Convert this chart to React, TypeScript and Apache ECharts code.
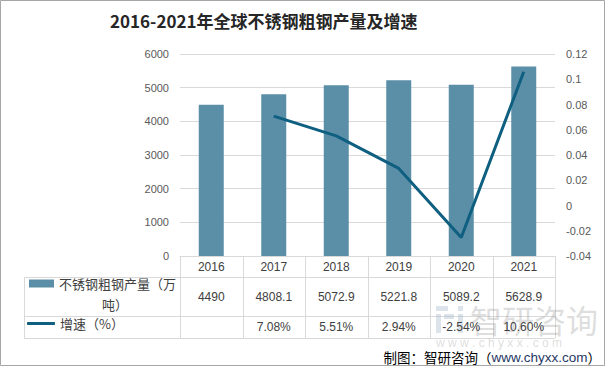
import React, { useEffect, useRef } from 'react';
import * as echarts from 'echarts';

const years = ['2016', '2017', '2018', '2019', '2020', '2021'];
const production = [4490, 4808.1, 5072.9, 5221.8, 5089.2, 5628.9];
const growthPct: (number | null)[] = [null, 7.08, 5.51, 2.94, -2.54, 10.6];
const leftAxis = { min: 0, max: 6000, interval: 1000 };
const rightAxis = { min: -0.04, max: 0.12, interval: 0.02 };
const barName = '不锈钢粗钢产量（万吨）';
const lineName = '增速（%）';

const W = 606;
const H = 367;
const G_LEFT = 180;
const G_RIGHT = 555;
const G_TOP = 54;
const G_BOTTOM = 256;
const ROW1 = 277;
const ROW2 = 316;
const ROW3 = 338;
const TABLE_LEFT = 24;
const LINE_C = '#d9d9d9';
const TXT = '#404040';
const NUMFONT = '"Liberation Sans", Arial, sans-serif';
const CJK = '"Noto Sans CJK SC", sans-serif';

export default function App() {
  const ref = useRef<HTMLDivElement>(null);
  useEffect(() => {
    document.body.style.margin = '0';
    const chart = echarts.init(ref.current!, null, { renderer: 'svg' });
    const colW = (G_RIGHT - G_LEFT) / years.length;
    const tableLines: any[] = [];
    [ROW1, ROW2, ROW3].forEach((y) =>
      tableLines.push({ type: 'line', shape: { x1: TABLE_LEFT, y1: y + 0.5, x2: G_RIGHT, y2: y + 0.5 }, style: { stroke: LINE_C, lineWidth: 1 }, silent: true })
    );
    tableLines.push({ type: 'line', shape: { x1: TABLE_LEFT + 0.5, y1: ROW1, x2: TABLE_LEFT + 0.5, y2: ROW3 }, style: { stroke: LINE_C, lineWidth: 1 }, silent: true });
    for (let i = 0; i <= years.length; i++) {
      const x = Math.round(G_LEFT + colW * i) + 0.5;
      tableLines.push({ type: 'line', shape: { x1: x, y1: G_BOTTOM, x2: x, y2: ROW3 }, style: { stroke: LINE_C, lineWidth: 1 }, silent: true });
    }

    const option: any = {
      animation: false,
      backgroundColor: '#ffffff',
      title: {
        text: '2016-2021年全球不锈钢粗钢产量及增速',
        left: 110,
        top: 12,
        padding: 0,
        textStyle: { fontSize: 17, fontWeight: 'bold', color: '#262626', fontFamily: CJK },
      },
      grid: { left: G_LEFT, right: W - G_RIGHT, top: G_TOP, bottom: H - G_BOTTOM },
      legend: [
        {
          data: [barName],
          left: 29,
          top: 277,
          padding: 0,
          itemWidth: 25,
          itemHeight: 8,
          icon: 'rect',
          formatter: () => '不锈钢粗钢产量（万',
          textStyle: { fontSize: 13, color: TXT, fontFamily: CJK },
          itemGap: 4,
        },
        {
          data: [lineName],
          left: 27,
          top: 317,
          padding: 0,
          itemWidth: 28,
          itemHeight: 3,
          icon: 'roundRect',
          textStyle: { fontSize: 13, color: TXT, fontFamily: CJK },
          itemGap: 4,
        },
      ],
      xAxis: {
        type: 'category',
        data: years,
        axisLine: { show: true, lineStyle: { color: LINE_C } },
        axisTick: { show: false },
        axisLabel: {
          interval: 0,
          margin: 0,
          formatter: (v: string, i: number) => {
            const g = growthPct[i];
            const gs = g == null ? ' ' : g.toFixed(2) + '%';
            return `{h|${v}}\n{p|${production[i]}}\n{g|${gs}}`;
          },
          rich: {
            h: { lineHeight: 21, height: 21, fontSize: 12, color: TXT, fontFamily: NUMFONT },
            p: { lineHeight: 39, height: 39, fontSize: 12, color: TXT, fontFamily: NUMFONT },
            g: { lineHeight: 22, height: 22, fontSize: 12, color: TXT, fontFamily: NUMFONT },
          },
        },
      },
      yAxis: [
        {
          type: 'value',
          min: leftAxis.min,
          max: leftAxis.max,
          interval: leftAxis.interval,
          axisLine: { show: false },
          axisTick: { show: false },
          splitLine: { show: true, lineStyle: { color: LINE_C } },
          axisLabel: { fontSize: 11, color: '#595959', margin: 11, fontFamily: NUMFONT, formatter: (v: number) => String(v) },
        },
        {
          type: 'value',
          min: rightAxis.min,
          max: rightAxis.max,
          interval: rightAxis.interval,
          axisLine: { show: false },
          axisTick: { show: false },
          splitLine: { show: false },
          axisLabel: {
            fontSize: 11,
            color: '#595959',
            margin: 11,
            fontFamily: NUMFONT,
            formatter: (v: number) => String(parseFloat(v.toFixed(2))),
          },
        },
      ],
      series: [
        {
          name: barName,
          type: 'bar',
          data: production,
          barWidth: '40%',
          itemStyle: { color: '#5b8fa7' },
        },
        {
          name: lineName,
          type: 'line',
          yAxisIndex: 1,
          data: growthPct.map((g) => (g == null ? null : g / 100)),
          symbol: 'none',
          lineStyle: { color: '#0e5f80', width: 3 },
          itemStyle: { color: '#0e5f80' },
        },
      ],
      graphic: [
        ...tableLines,
        {
          type: 'text',
          x: 102,
          y: 304,
          style: { text: '吨）', fontSize: 13, fill: TXT, fontFamily: CJK, verticalAlign: 'middle' },
          silent: true,
        },
        // watermark
        { type: 'rect', shape: { x: 436, y: 306, width: 12, height: 5 }, style: { fill: '#9fb0c4', opacity: 0.35 }, silent: true },
        { type: 'rect', shape: { x: 436, y: 314, width: 5, height: 19 }, style: { fill: '#9fb0c4', opacity: 0.35 }, silent: true },
        { type: 'rect', shape: { x: 444, y: 314, width: 10, height: 5 }, style: { fill: '#9fb0c4', opacity: 0.35 }, silent: true },
        { type: 'rect', shape: { x: 458, y: 306, width: 5, height: 5 }, style: { fill: '#9fb0c4', opacity: 0.35 }, silent: true },
        { type: 'rect', shape: { x: 458, y: 314, width: 5, height: 19 }, style: { fill: '#9fb0c4', opacity: 0.35 }, silent: true },
        {
          type: 'text',
          x: 470,
          y: 319,
          style: { text: '智研咨询', fontSize: 32, fill: '#8c8c8c', opacity: 0.3, fontFamily: CJK, verticalAlign: 'middle' },
          silent: true,
        },
        {
          type: 'text',
          x: 436,
          y: 343,
          style: { text: 'w w w . c h y x x . c o m', fontSize: 12, fill: '#8c8c8c', opacity: 0.3, fontFamily: NUMFONT, verticalAlign: 'middle' },
          silent: true,
        },
        {
          type: 'text',
          x: 601,
          y: 357,
          style: {
            text: '{a|制图：智研咨询（}{b|www.chyxx.com}{a|）}',
            align: 'right',
            verticalAlign: 'middle',
            rich: {
              a: { fontSize: 13.5, fill: '#000000', fontFamily: CJK },
              b: { fontSize: 13.5, fill: '#1f3864', fontFamily: NUMFONT },
            },
          },
          silent: true,
        },
        {
          type: 'rect',
          shape: { x: 0.5, y: 0.5, width: W - 2, height: H - 2 },
          style: { fill: 'none', stroke: '#a6a6a6', lineWidth: 1 },
          silent: true,
        },
      ],
    };
    chart.setOption(option);
    return () => chart.dispose();
  }, []);
  return <div ref={ref} style={{ position: 'absolute', left: 0, top: 0, width: W, height: H }} />;
}
